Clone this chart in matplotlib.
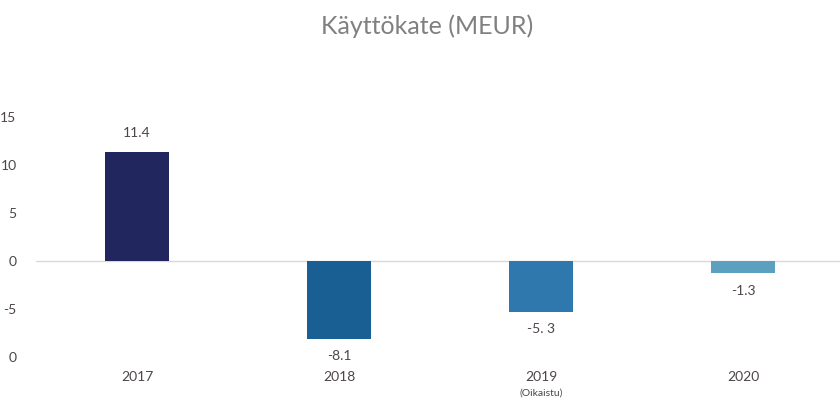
import matplotlib.pyplot as plt

plt.rcParams['font.family'] = ['Lato', 'DejaVu Sans']

years = ['2017', '2018', '2019', '2020']
kayttokate = [11.4, -8.1, -5.3, -1.3]
value_labels = ['11.4', '-8.1', '-5. 3', '-1.3']
bar_colors = ['#21265e', '#1a5f94', '#2f78ad', '#5ba0bf']
ytick_values = [-10, -5, 0, 5, 10, 15]
ytick_labels = ['0', '-5', '0', '5', '10', '15']

text_color = '#4d4646'

fig = plt.figure(figsize=(8.4, 4.01), dpi=100)
ax = fig.add_axes([36 / 840, 44 / 401, 804 / 840, 240 / 401])

x = range(len(years))
ax.bar(x, kayttokate, width=0.32, color=bar_colors, zorder=2)
ax.axhline(0, color='#d9d9d9', linewidth=1, zorder=1)

ax.set_xlim(-0.5, 3.48)
ax.set_ylim(-10, 15)
ax.set_yticks(ytick_values)
ax.set_yticklabels(ytick_labels)
ax.set_xticks(list(x))
ax.set_xticklabels(years)
ax.tick_params(axis='y', length=0, pad=14, labelsize=10, labelcolor=text_color)
ax.tick_params(axis='x', length=0, pad=10, labelsize=10, labelcolor=text_color)
for spine in ax.spines.values():
    spine.set_visible(False)

# arvot palkkien päälle / alle
for i, (v, lab) in enumerate(zip(kayttokate, value_labels)):
    if v >= 0:
        ax.annotate(lab, (i, v), xytext=(0, 9), textcoords='offset points',
                    ha='center', va='bottom', fontsize=10, color=text_color)
    else:
        ax.annotate(lab, (i, v), xytext=(0, -8), textcoords='offset points',
                    ha='center', va='top', fontsize=10, color=text_color)

ax.annotate('(Oikaistu)', (2, -10), xytext=(0, -23), textcoords='offset points',
            ha='center', va='top', fontsize=7.5, color=text_color)

fig.text(427 / 840, 1 - 26 / 401, 'Käyttökate (MEUR)', ha='center', va='center',
         fontsize=18, color='#808080')

fig.savefig('out.png', dpi=100)
